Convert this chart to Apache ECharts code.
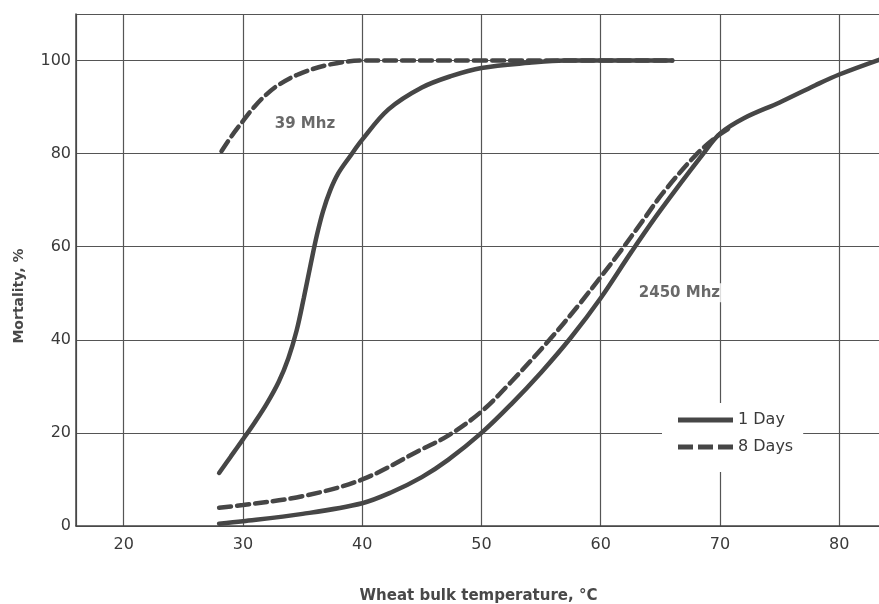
<!DOCTYPE html>
<html>
<head>
<meta charset="utf-8">
<script src="https://cdn.jsdelivr.net/npm/echarts@6/dist/echarts.min.js"></script>
<style>
html,body{margin:0;padding:0;background:#fff;}
#chart{width:879px;height:604px;}
</style>
</head>
<body>
<div id="chart"></div>
<script>
// 39 MHz, 1 day (solid)
const x39Day1 = [28, 29, 30, 31, 32, 33, 33.8, 34.5, 35.1, 35.7, 36.2, 36.7, 37.3, 38, 39, 40, 42.2, 45, 47.5, 50, 54, 57, 60, 66];
const y39Day1 = [11.4, 15, 18.6, 22.3, 26.3, 31, 36, 42, 49, 56.5, 62.5, 67.5, 72, 75.8, 79.5, 83, 89.5, 94.2, 96.7, 98.4, 99.5, 100, 100, 100];
// 39 MHz, 8 days (dashed)
const x39Day8 = [28.2, 29, 30, 31, 32, 33, 34.7, 37.2, 40, 50, 60, 66];
const y39Day8 = [80.5, 83.6, 87, 90.2, 92.8, 94.8, 97.1, 99.1, 100, 100, 100, 100];
// 2450 MHz, 1 day (solid)
const x2450Day1 = [28, 30, 35, 40, 42.5, 45, 47.2, 50, 52.5, 55, 57.5, 60, 62.6, 65, 68.6, 70, 72, 75, 78, 80, 83.5];
const y2450Day1 = [0.5, 1, 2.6, 4.9, 7.3, 10.5, 14.2, 20, 26.2, 33, 40.5, 49, 59, 67.8, 80, 84.3, 87.6, 91, 94.7, 97, 100.3];
// 2450 MHz, 8 days (dashed)
const x2450Day8 = [28, 30, 35, 40, 45, 47.2, 50, 52.5, 55.7, 58, 60, 61.5, 63.5, 65.2, 67.9, 69.8, 71];
const y2450Day8 = [3.9, 4.5, 6.4, 10, 16.5, 19.4, 24.6, 31, 40, 47, 53.5, 58.5, 65.5, 71.5, 79.5, 83.8, 85.8];
// curve labels
const curveLabels = [[35.2, 86.4, '39 Mhz'], [66.6, 50.1, '2450 Mhz']];
const legendNames = ['1 Day', '8 Days'];
const xTickLabels = [20, 30, 40, 50, 60, 70, 80];
const yTickLabels = [0, 20, 40, 60, 80, 100];

const zip = (xs, ys) => xs.map((x, i) => [x, ys[i]]);
const ink = '#464646';
const font = 'DejaVu Sans';

const lineSeries = (name, xs, ys, dashed) => ({
  name: name,
  type: 'line',
  data: zip(xs, ys),
  smooth: 0.35,
  symbol: 'none',
  lineStyle: { color: ink, width: 4.5, type: dashed ? [12, 6] : 'solid', cap: 'round' },
  itemStyle: { color: ink },
  z: 3
});

const chart = echarts.init(document.getElementById('chart'), null, { renderer: 'canvas' });
chart.setOption({
  backgroundColor: '#ffffff',
  animation: false,
  grid: { left: 76, right: -2, top: 14, bottom: 78, containLabel: false, outerBoundsMode: 'none' },
  xAxis: {
    type: 'value',
    min: 16,
    max: 83.5,
    splitNumber: 7,
    name: 'Wheat bulk temperature, °C',
    nameLocation: 'middle',
    nameGap: 63,
    nameTextStyle: { fontFamily: font, fontSize: 15, fontWeight: 'bold', color: '#484848' },
    axisLine: { show: true, lineStyle: { color: '#444', width: 1.5 } },
    axisTick: { show: false },
    axisLabel: {
      margin: 11,
      fontFamily: font, fontSize: 16, color: '#3a3a3a',
      showMinLabel: true, showMaxLabel: false,
      formatter: v => (xTickLabels.indexOf(Math.round(v)) >= 0 && Math.abs(v - Math.round(v)) < 1e-6) ? String(Math.round(v)) : ''
    },
    splitLine: { show: true, lineStyle: { color: '#555', width: 1.2 } }
  },
  yAxis: {
    type: 'value',
    min: 0,
    max: 110,
    interval: 20,
    name: 'Mortality, %',
    nameLocation: 'middle',
    nameGap: 50,
    nameTextStyle: { fontFamily: font, fontSize: 14, fontWeight: 'bold', color: '#484848', padding: [0, 52, 0, 0] },
    axisLine: { show: true, lineStyle: { color: '#444', width: 1.5 } },
    axisTick: { show: false },
    axisLabel: {
      margin: 5,
      fontFamily: font, fontSize: 16, color: '#3a3a3a',
      showMaxLabel: false,
      formatter: v => yTickLabels.indexOf(v) >= 0 ? String(v) : ''
    },
    splitLine: { show: true, lineStyle: { color: '#555', width: 1.2 } }
  },
  legend: {
    data: [
      { name: legendNames[0], icon: 'path://M0,0H55V5H0Z' },
      { name: legendNames[1], icon: 'path://M0,0H15V5H0Z M20,0H35V5H20Z M40,0H55V5H40Z' }
    ],
    orient: 'vertical',
    left: 662,
    top: 403,
    itemWidth: 55,
    itemHeight: 5,
    itemGap: 9,
    backgroundColor: '#ffffff',
    padding: [8, 10, 16, 16],
    itemStyle: { color: ink, borderWidth: 0 },
    textStyle: { fontFamily: font, fontSize: 16, color: '#3a3a3a', lineHeight: 18, height: 18, verticalAlign: 'middle' }
  },
  series: [
    lineSeries(legendNames[0], x39Day1, y39Day1, false),
    lineSeries(legendNames[1], x39Day8, y39Day8, true),
    lineSeries(legendNames[0], x2450Day1, y2450Day1, false),
    lineSeries(legendNames[1], x2450Day8, y2450Day8, true),
    {
      type: 'scatter',
      data: curveLabels,
      symbolSize: 0,
      silent: true,
      label: {
        show: true,
        position: 'inside',
        formatter: p => p.data[2],
        fontFamily: font, fontSize: 15, fontWeight: 'bold', color: '#444',
        backgroundColor: '#ffffff', padding: [2, 3]
      },
      z: 4
    }
  ]
});
</script>
</body>
</html>
